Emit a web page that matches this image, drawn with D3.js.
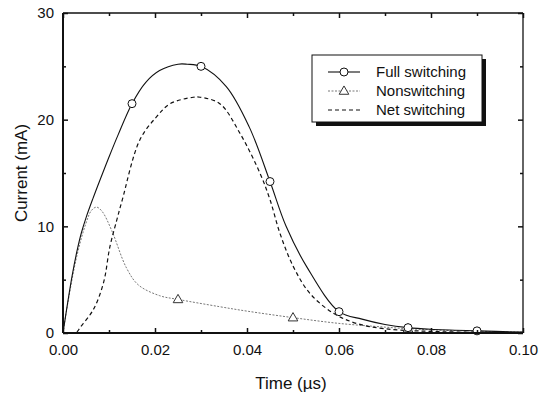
<!DOCTYPE html>
<html>
<head>
<meta charset="utf-8">
<script src="https://cdn.jsdelivr.net/npm/d3@7"></script>
<style>
  body { margin: 0; background: #fff; }
  svg { font-family: "Liberation Sans", Arial, sans-serif; }
</style>
</head>
<body>
<svg id="chart" width="547" height="396"></svg>
<script>
// values (time in µs, current in mA)
const fullTime = [0, 0.001, 0.002, 0.003, 0.004, 0.005, 0.0065, 0.008, 0.010, 0.012, 0.015, 0.018, 0.021, 0.025, 0.027, 0.030, 0.0355, 0.0405, 0.045, 0.0485, 0.053, 0.060, 0.065, 0.070, 0.075, 0.080, 0.090, 0.100];
const fullCurrent = [0, 2.8, 5.4, 7.6, 9.4, 10.8, 12.6, 14.3, 16.5, 18.6, 21.5, 23.5, 24.6, 25.2, 25.2, 25.0, 23.1, 19.3, 14.2, 10.0, 6.2, 2.0, 1.3, 0.8, 0.5, 0.35, 0.2, 0.08];

const nonTime = [0, 0.001, 0.003, 0.005, 0.0062, 0.0073, 0.0085, 0.0106, 0.0138, 0.0164, 0.021, 0.025, 0.034, 0.040, 0.050, 0.060, 0.070, 0.075, 0.085, 0.100];
const nonCurrent = [0, 2.7, 7.2, 10.3, 11.5, 11.8, 11.4, 9.6, 6.1, 4.5, 3.5, 3.15, 2.47, 2.05, 1.44, 0.9, 0.55, 0.4, 0.22, 0.08];

const netTime = [0, 0.003, 0.0037, 0.0066, 0.0088, 0.0102, 0.0117, 0.0129, 0.0167, 0.0204, 0.0233, 0.0283, 0.0298, 0.0341, 0.0385, 0.0428, 0.045, 0.0472, 0.0501, 0.0537, 0.0588, 0.0638, 0.070, 0.080, 0.100];
const netCurrent = [0, 0.1, 0.5, 2.2, 4.7, 8.1, 10.6, 12.5, 18.1, 20.3, 21.5, 22.1, 22.1, 21.5, 18.7, 15.0, 12.5, 9.3, 6.2, 3.7, 1.85, 0.9, 0.4, 0.15, 0.02];

const fullMarkTime = [0.015, 0.030, 0.045, 0.060, 0.075, 0.090];
const fullMarkCurrent = [21.5, 25.0, 14.2, 2.0, 0.5, 0.2];
const nonMarkTime = [0.025, 0.050, 0.075];
const nonMarkCurrent = [3.15, 1.44, 0.4];

const xTicks = [0, 0.02, 0.04, 0.06, 0.08, 0.10];
const xMinor = [0.01, 0.03, 0.05, 0.07, 0.09];
const yTicks = [0, 10, 20, 30];
const yMinor = [5, 15, 25];

const legendNames = ['Full switching', 'Nonswitching', 'Net switching'];

const width = 547, height = 396;
const padding = { top: 13, right: 24, bottom: 63, left: 63 };
const plotWidth = width - padding.left - padding.right;
const plotHeight = height - padding.top - padding.bottom;

const xScale = d3.scaleLinear().domain([0, 0.10]).range([0, plotWidth]);
const yScale = d3.scaleLinear().domain([0, 30]).range([plotHeight, 0]);

const zip = (xs, ys) => xs.map((x, i) => [x, ys[i]]);
const lineGen = d3.line()
  .x(d => xScale(d[0]))
  .y(d => Math.min(yScale(d[1]), plotHeight))
  .curve(d3.curveCatmullRom.alpha(0.5));

const svg = d3.select('#chart');
const g = svg.append('g').attr('transform', `translate(${padding.left},${padding.top})`);

// curves
g.append('path')
  .attr('d', lineGen(zip(nonTime, nonCurrent)))
  .attr('fill', 'none')
  .attr('stroke', '#777')
  .attr('stroke-width', 1)
  .attr('stroke-dasharray', '2,1.5');

g.append('path')
  .attr('d', lineGen(zip(netTime, netCurrent)))
  .attr('fill', 'none')
  .attr('stroke', '#111')
  .attr('stroke-width', 1.2)
  .attr('stroke-dasharray', '4,3');

g.append('path')
  .attr('d', lineGen(zip(fullTime, fullCurrent)))
  .attr('fill', 'none')
  .attr('stroke', '#111')
  .attr('stroke-width', 1.1);

// markers
const tri = d3.symbol().type(d3.symbolTriangle).size(40);
g.selectAll('.tri')
  .data(zip(nonMarkTime, nonMarkCurrent))
  .join('path')
  .attr('class', 'tri')
  .attr('d', tri)
  .attr('transform', d => `translate(${xScale(d[0])},${yScale(d[1]) + 0.5})`)
  .attr('fill', '#fff')
  .attr('stroke', '#333')
  .attr('stroke-width', 1);

g.selectAll('.dot')
  .data(zip(fullMarkTime, fullMarkCurrent))
  .join('circle')
  .attr('class', 'dot')
  .attr('cx', d => xScale(d[0]))
  .attr('cy', d => yScale(d[1]))
  .attr('r', 4)
  .attr('fill', '#fff')
  .attr('stroke', '#111')
  .attr('stroke-width', 1);

// axes, ticks pointing inward on all four sides
const axisStyle = sel => {
  sel.select('.domain').remove();
  sel.selectAll('line').attr('stroke', '#111').attr('stroke-width', 1.5);
  sel.selectAll('text').attr('font-size', 15).attr('fill', '#111');
};

g.append('g')
  .attr('transform', `translate(0,${plotHeight})`)
  .call(d3.axisBottom(xScale).tickValues(xTicks).tickSize(-5).tickPadding(11).tickFormat(d3.format('.2f')))
  .call(axisStyle);
g.append('g')
  .attr('transform', `translate(0,${plotHeight})`)
  .call(d3.axisBottom(xScale).tickValues(xMinor).tickSize(-3).tickFormat(''))
  .call(axisStyle);
g.append('g')
  .call(d3.axisTop(xScale).tickValues(xTicks).tickSize(-5).tickFormat(''))
  .call(axisStyle);
g.append('g')
  .call(d3.axisTop(xScale).tickValues(xMinor).tickSize(-3).tickFormat(''))
  .call(axisStyle);

g.append('g')
  .call(d3.axisLeft(yScale).tickValues(yTicks).tickSize(-5).tickPadding(9).tickFormat(d3.format('d')))
  .call(axisStyle);
g.append('g')
  .call(d3.axisLeft(yScale).tickValues(yMinor).tickSize(-3).tickFormat(''))
  .call(axisStyle);
g.append('g')
  .attr('transform', `translate(${plotWidth},0)`)
  .call(d3.axisRight(yScale).tickValues(yTicks).tickSize(-5).tickFormat(''))
  .call(axisStyle);
g.append('g')
  .attr('transform', `translate(${plotWidth},0)`)
  .call(d3.axisRight(yScale).tickValues(yMinor).tickSize(-3).tickFormat(''))
  .call(axisStyle);

// frame: heavier on left and bottom
g.append('line').attr('x1', 0).attr('x2', plotWidth).attr('y1', 0).attr('y2', 0)
  .attr('stroke', '#111').attr('stroke-width', 1.3);
g.append('line').attr('x1', plotWidth).attr('x2', plotWidth).attr('y1', 0).attr('y2', plotHeight)
  .attr('stroke', '#111').attr('stroke-width', 1.3);
g.append('line').attr('x1', 0).attr('x2', plotWidth).attr('y1', plotHeight).attr('y2', plotHeight)
  .attr('stroke', '#111').attr('stroke-width', 2);
g.append('line').attr('x1', 0).attr('x2', 0).attr('y1', 0).attr('y2', plotHeight)
  .attr('stroke', '#111').attr('stroke-width', 2);

// axis titles
svg.append('text')
  .attr('x', 291)
  .attr('y', 389)
  .attr('text-anchor', 'middle')
  .attr('font-size', 17)
  .attr('fill', '#111')
  .text('Time (µs)');

svg.append('text')
  .attr('transform', `translate(27,${padding.top + plotHeight / 2}) rotate(-90)`)
  .attr('text-anchor', 'middle')
  .attr('font-size', 17)
  .attr('fill', '#111')
  .text('Current (mA)');

// legend
const legend = svg.append('g').attr('transform', 'translate(312,55)');
legend.append('rect')
  .attr('x', 4).attr('y', 4).attr('width', 170).attr('height', 67)
  .attr('fill', '#111');
legend.append('rect')
  .attr('x', 0).attr('y', 0).attr('width', 170).attr('height', 67)
  .attr('fill', '#fff').attr('stroke', '#111').attr('stroke-width', 1);

const rowY = [17, 36, 55];
const legendStyles = [
  { stroke: '#111', dash: null, width: 1.1 },
  { stroke: '#777', dash: '2,1.5', width: 1 },
  { stroke: '#111', dash: '4,3', width: 1.2 },
];
legendNames.forEach((name, i) => {
  const row = legend.append('g').attr('transform', `translate(0,${rowY[i]})`);
  row.append('line')
    .attr('x1', 16).attr('x2', 48).attr('y1', 0).attr('y2', 0)
    .attr('stroke', legendStyles[i].stroke)
    .attr('stroke-width', legendStyles[i].width)
    .attr('stroke-dasharray', legendStyles[i].dash);
  if (i === 0) {
    row.append('circle').attr('cx', 32).attr('cy', 0).attr('r', 4)
      .attr('fill', '#fff').attr('stroke', '#111');
  } else if (i === 1) {
    row.append('path').attr('d', tri).attr('transform', 'translate(32,0.5)')
      .attr('fill', '#fff').attr('stroke', '#333');
  }
  row.append('text')
    .attr('x', 64).attr('y', 5)
    .attr('font-size', 15)
    .attr('fill', '#111')
    .text(name);
});
</script>
</body>
</html>
